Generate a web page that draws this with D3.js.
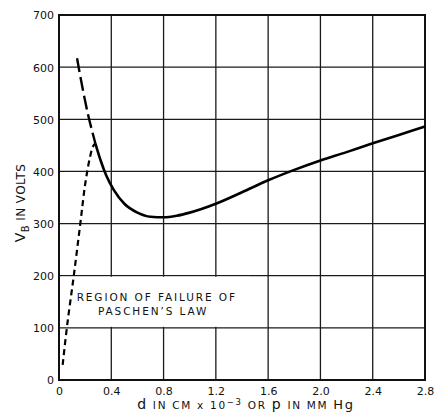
<!DOCTYPE html>
<html>
<head>
<meta charset="utf-8">
<script src="https://cdn.jsdelivr.net/npm/d3@7"></script>
<style>
  body { margin: 0; background: #fff; }
  text { font-family: "DejaVu Sans", sans-serif; fill: #111; }
</style>
</head>
<body>
<div id="chart"></div>
<script>
const svgWidth = 436;
const svgHeight = 413;
const margin = { top: 15, right: 11, bottom: 33, left: 59 };
const width = svgWidth - margin.left - margin.right;
const height = svgHeight - margin.top - margin.bottom;

// x ticks (d in cm x 10^-3) and y ticks (volts)
const xticks = [0, 0.4, 0.8, 1.2, 1.6, 2.0, 2.4, 2.8];
const yticks = [0, 100, 200, 300, 400, 500, 600, 700];

// breakdown curve, Paschen region (solid)
const solidX = [0.278, 0.32, 0.36, 0.42, 0.5, 0.6, 0.7, 0.8, 0.9, 1.0, 1.2, 1.4, 1.6, 1.8, 2.0, 2.2, 2.4, 2.6, 2.8];
const solidY = [454, 420, 393, 364, 338, 321, 313, 312, 315, 321, 338, 360, 383, 403, 421, 437, 454, 470, 486];
// extrapolated Paschen curve (long dash)
const longX = [0.138, 0.18, 0.226, 0.278];
const longY = [617, 560, 505, 454];
// measured curve in failure region (short dash)
const shortX = [0.028, 0.061, 0.112, 0.163, 0.2, 0.235, 0.26, 0.278];
const shortY = [29, 102, 198, 300, 375, 425, 448, 454];

let svg = d3.select("#chart").append("svg").attr("width", svgWidth).attr("height", svgHeight);
let chrtgrp = svg.append("g").attr("transform", `translate(${margin.left}, ${margin.top})`);

let xlin = d3.scaleLinear().domain([0, 2.8]).range([0, width]);
let ylin = d3.scaleLinear().domain([0, 700]).range([height, 0]);

// grid
chrtgrp.selectAll("line.vgrid")
  .data(xticks.slice(1, -1))
  .enter().append("line")
  .attr("x1", d => xlin(d)).attr("x2", d => xlin(d))
  .attr("y1", 0).attr("y2", height)
  .attr("stroke", "#1a1a1a").attr("stroke-width", 1.3);
chrtgrp.selectAll("line.hgrid")
  .data(yticks.slice(1, -1))
  .enter().append("line")
  .attr("x1", 0).attr("x2", width)
  .attr("y1", d => ylin(d)).attr("y2", d => ylin(d))
  .attr("stroke", "#1a1a1a").attr("stroke-width", 1.3);

// white band behind the annotation
chrtgrp.append("rect")
  .attr("x", 3).attr("y", ylin(200) + 1)
  .attr("width", xlin(1.46) - 3).attr("height", ylin(100) - ylin(200) - 2)
  .attr("fill", "#fff");

// frame
chrtgrp.append("rect")
  .attr("width", width).attr("height", height)
  .attr("fill", "none").attr("stroke", "#111").attr("stroke-width", 2);

// tick labels
let xAxis = chrtgrp.append("g")
  .attr("transform", `translate(0, ${height})`)
  .call(d3.axisBottom(xlin).tickValues(xticks).tickFormat(d => d === 0 ? "0" : d3.format(".1f")(d)).tickSize(0).tickPadding(7));
let yAxis = chrtgrp.append("g")
  .call(d3.axisLeft(ylin).tickValues(yticks).tickSize(0).tickPadding(5));
[xAxis, yAxis].forEach(a => {
  a.select(".domain").remove();
  a.selectAll("text").style("font-size", "11px").attr("fill", "#111");
});
yAxis.selectAll("text").attr("dy", "0.35em");

// curves
let line = d3.line().x(d => xlin(d[0])).y(d => ylin(d[1])).curve(d3.curveMonotoneX);
let lineY = d3.line().x(d => xlin(d[0])).y(d => ylin(d[1])).curve(d3.curveCatmullRom);
chrtgrp.append("path")
  .attr("d", line(d3.zip(solidX, solidY)))
  .attr("fill", "none").attr("stroke", "#000").attr("stroke-width", 2.6);
chrtgrp.append("path")
  .attr("d", lineY(d3.zip(longX, longY)))
  .attr("fill", "none").attr("stroke", "#000").attr("stroke-width", 2.4)
  .attr("stroke-dasharray", "14,5");
chrtgrp.append("path")
  .attr("d", lineY(d3.zip(shortX, shortY)))
  .attr("fill", "none").attr("stroke", "#000").attr("stroke-width", 2.2)
  .attr("stroke-dasharray", "6,4");

// annotation
let ann = chrtgrp.append("text")
  .style("font-size", "10.5px").style("letter-spacing", "1.9px");
ann.append("tspan").attr("x", xlin(0.135)).attr("y", ylin(152)).text("REGION OF FAILURE OF");
ann.append("tspan").attr("x", xlin(0.72)).attr("y", ylin(124)).attr("text-anchor", "middle").text("PASCHEN\u2019S LAW");

// axis labels
let xl = svg.append("text")
  .attr("x", 246).attr("y", 409)
  .attr("text-anchor", "middle")
  .style("font-size", "10.5px").style("letter-spacing", "1.7px");
xl.append("tspan").style("font-size", "14px").text("d");
xl.append("tspan").text(" IN CM x 10");
xl.append("tspan").attr("dy", -4).style("font-size", "8.5px").text("\u22123");
xl.append("tspan").attr("dy", 4).text(" OR ");
xl.append("tspan").style("font-size", "14px").text("p");
xl.append("tspan").text(" IN MM ");
xl.append("tspan").style("font-size", "13px").text("Hg");

let yl = svg.append("text")
  .attr("transform", "translate(25, 203) rotate(-90)")
  .attr("text-anchor", "middle")
  .style("font-size", "12px").style("letter-spacing", "0.4px");
yl.append("tspan").style("font-size", "14px").text("V");
yl.append("tspan").attr("dy", 4).style("font-size", "10px").text("B");
yl.append("tspan").attr("dy", -4).text(" IN VOLTS");
</script>
</body>
</html>
